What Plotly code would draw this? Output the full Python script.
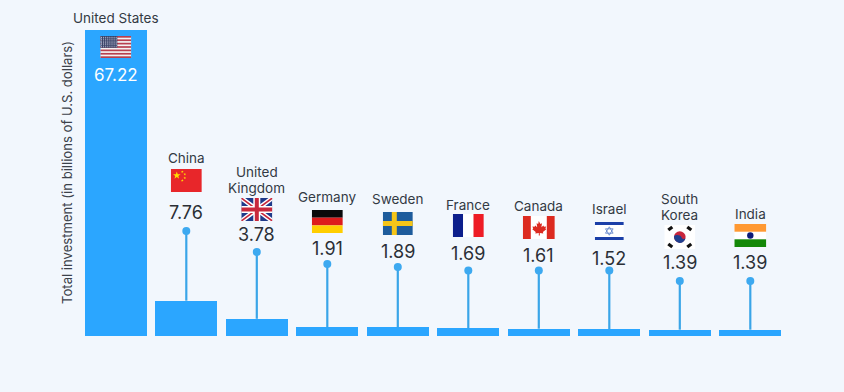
import base64
import math
import plotly.graph_objects as go

countries = ["United States", "China", "United Kingdom", "Germany", "Sweden", "France", "Canada", "Israel", "South Korea", "India"]
name_lines = [["United States"], ["China"], ["United", "Kingdom"], ["Germany"], ["Sweden"], ["France"], ["Canada"], ["Israel"], ["South", "Korea"], ["India"]]
values = [67.22, 7.76, 3.78, 1.91, 1.89, 1.69, 1.61, 1.52, 1.39, 1.39]
value_labels = ["67.22", "7.76", "3.78", "1.91", "1.89", "1.69", "1.61", "1.52", "1.39", "1.39"]
y_title = "Total investment (in billions of U.S. dollars)"

# Pixel layout of the label stacks above each bar
stem_top_px = [None, 231, 252, 264, 267, 270.5, 270.5, 270.5, 281, 281]
value_px = [75, 212, 234, 248, 251, 253, 255, 258, 262, 262]
name_px = [18, 158, 180, 197, 199, 205, 206, 209, 207, 214]
flag_box = [(36, 58, 31), (169, 192, 31), (198, 221, 31), (210, 233, 31), (212, 235, 30),
            (214, 237, 31), (216, 239, 32), (222, 240, 29), (225, 249, 31), (224, 247, 32)]

X0, DX = 115.8, 70.5
BASE, SCALE = 336.0, 306.0 / 67.22
W, H = 844, 392
BAR, STEM, DOT, BG, INK = "#2BA6FF", "#3AA5E8", "#3DA9F0", "#F2F7FD", "#333A44"


def py(p):
    return (BASE - p) / SCALE


def star(cx, cy, r, c):
    pts = []
    for k in range(10):
        rr = r if k % 2 == 0 else r * .4
        pts.append("%.2f,%.2f" % (cx + rr * math.sin(k * math.pi / 5), cy - rr * math.cos(k * math.pi / 5)))
    return '<polygon fill="%s" points="%s"/>' % (c, " ".join(pts))


def svg(w, h, body):
    s = f'<svg xmlns="http://www.w3.org/2000/svg" width="{w*4}" height="{h*4}" viewBox="0 0 {w} {h}">{body}</svg>'
    return "data:image/svg+xml;base64," + base64.b64encode(s.encode()).decode()


def rect(x, y, w, h, c):
    return f'<rect x="{x}" y="{y}" width="{w}" height="{h}" fill="{c}"/>'


# United States
us = rect(0, 0, 31, 22, "#F4F2F2")
for i in range(7):
    us += rect(0, i * 22 / 6.5, 31, 22 / 13, "#B8404F")
us += rect(0, 0, 17, 11.8, "#3A4468")
for r in range(6):
    for c in range(8):
        us += f'<circle cx="{1.2+c*2.1}" cy="{1.2+r*1.9}" r=".55" fill="#DDE"/>'
# China
cn = rect(0, 0, 31, 23, "#E8262A") + star(6, 6.5, 4, "#FFDE00")
for a, b in [(11.5, 2.8), (14, 5.3), (14, 9), (11.5, 11.5)]:
    cn += star(a, b, 1.4, "#FFDE00")
# United Kingdom
uk = rect(0, 0, 31, 23, "#1F3A8A")
uk += '<path d="M0 0L31 23M31 0L0 23" stroke="#fff" stroke-width="4.5"/>'
uk += '<path d="M0 0L31 23M31 0L0 23" stroke="#C8283C" stroke-width="1.6"/>'
uk += rect(12, 0, 7, 23, "#fff") + rect(0, 8, 31, 7, "#fff")
uk += rect(13.5, 0, 4, 23, "#C8283C") + rect(0, 9.5, 31, 4, "#C8283C")
# Germany
de = rect(0, 0, 31, 7.7, "#0A0A0A") + rect(0, 7.7, 31, 7.7, "#DD1C1C") + rect(0, 15.4, 31, 7.6, "#FFCE00")
# Sweden
se = rect(0, 0, 30, 23, "#1E5C9C") + rect(9, 0, 5, 23, "#F5C518") + rect(0, 9, 30, 5, "#F5C518")
# France
fr = rect(0, 0, 10.3, 23, "#0D1F8C") + rect(10.3, 0, 10.4, 23, "#FFFFFF") + rect(20.7, 0, 10.3, 23, "#EE1C25")
# Canada
ca = rect(0, 0, 32, 23, "#FFFFFF") + rect(0, 0, 8, 23, "#DC2A20") + rect(24, 0, 8, 23, "#DC2A20")
ca += '<path d="M16 5l1.6 3 1.6-.8-.6 4 2-1.8.6 1.4 2.2-.4-.8 2.2.9.7-3.4 2.8.4 1.3-3.5-.5v2.6h-1v-2.6l-3.5.5.4-1.3-3.4-2.8.9-.7-.8-2.2 2.2.4.6-1.4 2 1.8-.6-4 1.6.8z" fill="#DC2A20"/>'
# Israel
il = rect(0, 0, 29, 18, "#FFFFFF") + rect(0, 0, 29, 3, "#1B3FA8") + rect(0, 15, 29, 3, "#1B3FA8")
il += '<path d="M14.5 4.8L18.3 11.2H10.7ZM14.5 13.2L10.7 6.8H18.3Z" fill="none" stroke="#5B7FC8" stroke-width=".8"/>'
# South Korea
kr = rect(0, 0, 31, 24, "#FFFFFF")
kr += '<circle cx="15.5" cy="12" r="5.8" fill="#C8253C"/><path d="M9.8 11a5.8 5.8 0 0 0 11.4 2.2c-1.5 1.6-3.6 .6-4-1-.8-2.2-5.5-3-7.4-1.2z" fill="#1F3F8F"/>'
for x1, y1, x2, y2 in [(4, 5, 8, 2), (23, 2, 27, 5), (4, 19, 8, 22), (23, 22, 27, 19)]:
    kr += f'<line x1="{x1}" y1="{y1}" x2="{x2}" y2="{y2}" stroke="#111" stroke-width="3.2"/>'
# India
ind = rect(0, 0, 32, 23, "#FFFFFF") + rect(0, 0, 32, 7.7, "#FF9933") + rect(0, 15.3, 32, 7.7, "#138808")
ind += '<circle cx="16" cy="11.5" r="3.2" fill="#0B1A78"/>'

flags = [us, cn, uk, de, se, fr, ca, il, kr, ind]

fig = go.Figure()
fig.add_bar(x=countries, y=values, width=62 / DX, marker=dict(color=BAR, line_width=0),
            showlegend=False, hoverinfo="x+y")

# Stems and dots rise from each bar to its label stack
for i, c in enumerate(countries):
    if stem_top_px[i] is None:
        continue
    fig.add_scatter(x=[c, c], y=[values[i], py(stem_top_px[i])], mode="lines",
                    line=dict(color=STEM, width=2.2), showlegend=False, hoverinfo="skip")
    fig.add_scatter(x=[c], y=[py(stem_top_px[i])], mode="markers",
                    marker=dict(color=DOT, size=8), showlegend=False, hoverinfo="skip")

FONT = "Inter, 'Noto Sans', sans-serif"
ann = []
for i, c in enumerate(countries):
    lines = name_lines[i]
    for k, t in enumerate(lines):
        ann.append(dict(x=c, y=py(name_px[i] + (k - (len(lines) - 1) / 2) * 15.5), text=t, showarrow=False,
                        borderpad=0, font=dict(family=FONT, size=13.5, color=INK)))
    ann.append(dict(x=c, y=py(value_px[i]), text=value_labels[i], showarrow=False,
                    font=dict(family=FONT, size=17 if i == 0 else 18, color="#FFFFFF" if i == 0 else "#2B2F36")))
ann.append(dict(xref="paper", yref="y", x=67 / W, y=py(173), xanchor="center", yanchor="middle",
                text=y_title, textangle=-90, showarrow=False,
                font=dict(family=FONT, size=13.1, color="#3C424B")))

imgs = []
for i, c in enumerate(countries):
    t, b, w = flag_box[i]
    h = b - t
    imgs.append(dict(source=svg(w, h, flags[i]), xref="x", yref="y", x=i, y=py(t),
                     sizex=w / DX, sizey=h / SCALE, xanchor="center", yanchor="top",
                     sizing="stretch", layer="above"))

fig.update_layout(
    width=W, height=H, margin=dict(l=0, r=0, t=0, b=0),
    paper_bgcolor=BG, plot_bgcolor=BG, autosize=False,
    annotations=ann, images=imgs, bargap=0,
    xaxis=dict(visible=False, type="category", categoryorder="array", categoryarray=countries,
               range=[-X0 / DX, (W - X0) / DX], domain=[0, 1], fixedrange=True),
    yaxis=dict(visible=False, range=[py(H), py(0)], domain=[0, 1], fixedrange=True),
)
fig.write_html("out.html", config=dict(displayModeBar=False),
               post_script=f"document.body.style.margin='0';document.body.style.background='{BG}';"
                           "document.documentElement.style.overflow='hidden';")
